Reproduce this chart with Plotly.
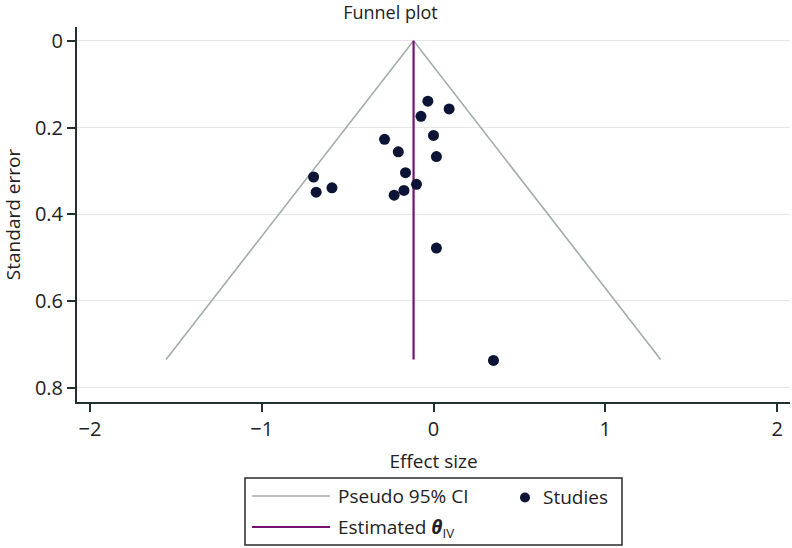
import plotly.graph_objects as go

# ---- data ----
effect_size = [-0.033, 0.091, -0.073, 0.000, -0.285, -0.205, 0.017, -0.163,
               -0.099, -0.172, -0.229, 0.017, -0.698, -0.683, -0.591, 0.349]
standard_error = [0.139, 0.157, 0.174, 0.218, 0.227, 0.256, 0.267, 0.304,
                  0.331, 0.345, 0.356, 0.478, 0.314, 0.349, 0.339, 0.737]

funnel_x = [-1.557, -0.116, 1.322]
funnel_se = [0.735, 0.0, 0.735]

theta_x = [-0.116, -0.116]
theta_se = [0.0, 0.735]

x_ticks = [-2, -1, 0, 1, 2]
x_tick_labels = ["−2", "−1", "0", "1", "2"]
y_ticks = [0, 0.2, 0.4, 0.6, 0.8]
y_tick_labels = ["0", "0.2", "0.4", "0.6", "0.8"]

# ---- layout geometry (pixels) ----
W, H = 792, 548
L, R, T, B = 77, 2, 27, 146
PW, PH = W - L - R, H - T - B

def px(xpix):
    return (xpix - L) / PW

def py(ypix):
    return (H - B - ypix) / PH

FONT = "Open Sans"
TXT = "#222222"
GRAY = "#a3abab"
THETA = "#761273"
DOT = "#0b1434"
AXIS = "#243030"

fig = go.Figure()
fig.add_trace(go.Scatter(x=funnel_x, y=funnel_se, mode="lines",
                         line=dict(color=GRAY, width=1.6),
                         name="Pseudo 95% CI", showlegend=False, hoverinfo="skip"))
fig.add_trace(go.Scatter(x=theta_x, y=theta_se, mode="lines",
                         line=dict(color=THETA, width=2.2),
                         name="Estimated θIV", showlegend=False, hoverinfo="skip"))
fig.add_trace(go.Scatter(x=effect_size, y=standard_error, mode="markers",
                         marker=dict(color=DOT, size=11, line=dict(width=0)),
                         name="Studies", showlegend=False))

shapes = []
annotations = []

# legend box
shapes.append(dict(type="rect", xref="paper", yref="paper",
                   x0=px(245), x1=px(622), y0=py(478), y1=py(545),
                   line=dict(color="#2a2a2a", width=1.5), fillcolor="rgba(0,0,0,0)"))
# legend line samples
shapes.append(dict(type="line", xref="paper", yref="paper",
                   x0=px(252), x1=px(330), y0=py(496), y1=py(496),
                   line=dict(color=GRAY, width=1.6)))
shapes.append(dict(type="line", xref="paper", yref="paper",
                   x0=px(252), x1=px(330), y0=py(527), y1=py(527),
                   line=dict(color=THETA, width=2.2)))
# legend marker sample
shapes.append(dict(type="circle", xref="paper", yref="paper",
                   x0=px(520), x1=px(530), y0=py(492.5), y1=py(502.5),
                   line=dict(width=0), fillcolor=DOT))

annotations.append(dict(text="Pseudo 95% CI", xref="paper", yref="paper",
                        x=px(336), y=py(496), xanchor="left", yanchor="middle",
                        showarrow=False, font=dict(size=19, color=TXT, family=FONT)))
annotations.append(dict(text="Estimated <b><i>θ</i></b><sub>IV</sub>", xref="paper", yref="paper",
                        x=px(336), y=py(528), xanchor="left", yanchor="middle",
                        showarrow=False, font=dict(size=19, color=TXT, family=FONT)))
annotations.append(dict(text="Studies", xref="paper", yref="paper",
                        x=px(541), y=py(497), xanchor="left", yanchor="middle",
                        showarrow=False, font=dict(size=19, color=TXT, family=FONT)))

fig.update_layout(
    width=W, height=H,
    margin=dict(l=L, r=R, t=T, b=B),
    paper_bgcolor="white", plot_bgcolor="white",
    font=dict(family=FONT, color=TXT, size=19),
    showlegend=False,
    title=dict(text="Funnel plot", x=px(428.5), xanchor="center",
               y=1 - 13 / H, yanchor="middle", yref="container",
               font=dict(size=18, color=TXT, family=FONT)),
    shapes=shapes,
    annotations=annotations,
)

fig.update_xaxes(range=[-2.075, 2.075], tickvals=x_ticks, ticktext=x_tick_labels,
                 showgrid=False, zeroline=False,
                 showline=True, linecolor=AXIS, linewidth=2,
                 ticks="outside", ticklen=8, tickwidth=1.5, tickcolor=AXIS,
                 tickfont=dict(size=20, color=TXT, family=FONT),
                 title=dict(text="Effect size", font=dict(size=19, color=TXT, family=FONT), standoff=14))
fig.update_yaxes(range=[0.833, -0.032], tickvals=y_ticks, ticktext=y_tick_labels,
                 showgrid=True, gridcolor="#e6e6e6", gridwidth=1, zeroline=False,
                 showline=True, linecolor=AXIS, linewidth=2,
                 ticks="outside", ticklen=8, tickwidth=1.5, tickcolor=AXIS,
                 tickfont=dict(size=20, color=TXT, family=FONT),
                 title=dict(text="Standard error", font=dict(size=19, color=TXT, family=FONT), standoff=14))

fig.write_html("out.html")
